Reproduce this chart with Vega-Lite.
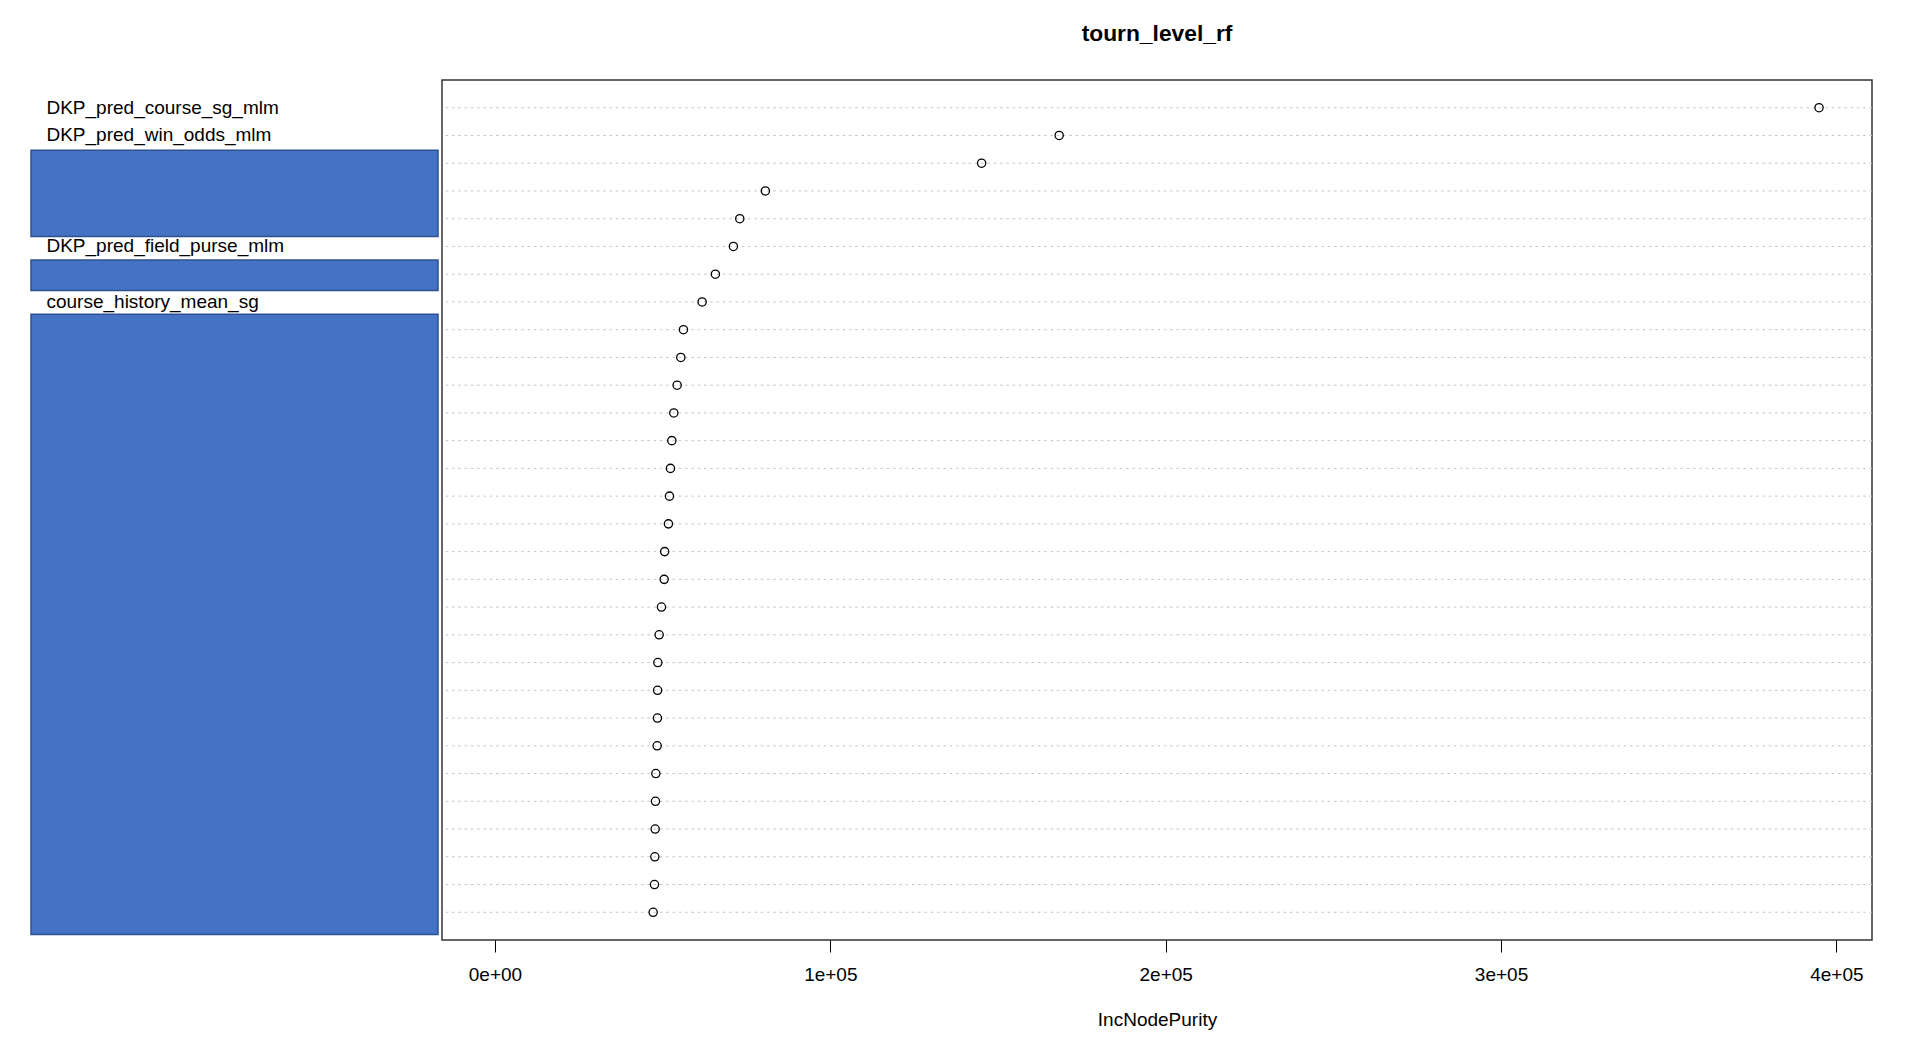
{
  "$schema": "https://vega.github.io/schema/vega-lite/v6.json",
  "padding": {"left": 30, "top": 22, "right": 0, "bottom": 0},
  "background": "white",
  "config": {"view": {"stroke": null}, "font": "Liberation Sans"},
  "datasets": {
    "imp": [
      {"rank": 1, "variable": "DKP_pred_course_sg_mlm", "IncNodePurity": 394820},
      {"rank": 2, "variable": "DKP_pred_win_odds_mlm", "IncNodePurity": 168240},
      {"rank": 3, "variable": "redacted_3", "IncNodePurity": 145110},
      {"rank": 4, "variable": "redacted_4", "IncNodePurity": 80630},
      {"rank": 5, "variable": "redacted_5", "IncNodePurity": 73000},
      {"rank": 6, "variable": "DKP_pred_field_purse_mlm", "IncNodePurity": 71100},
      {"rank": 7, "variable": "redacted_7", "IncNodePurity": 65730},
      {"rank": 8, "variable": "course_history_mean_sg", "IncNodePurity": 61770},
      {"rank": 9, "variable": "redacted_9", "IncNodePurity": 56200},
      {"rank": 10, "variable": "redacted_10", "IncNodePurity": 55420},
      {"rank": 11, "variable": "redacted_11", "IncNodePurity": 54320},
      {"rank": 12, "variable": "redacted_12", "IncNodePurity": 53330},
      {"rank": 13, "variable": "redacted_13", "IncNodePurity": 52740},
      {"rank": 14, "variable": "redacted_14", "IncNodePurity": 52330},
      {"rank": 15, "variable": "redacted_15", "IncNodePurity": 52030},
      {"rank": 16, "variable": "redacted_16", "IncNodePurity": 51730},
      {"rank": 17, "variable": "redacted_17", "IncNodePurity": 50600},
      {"rank": 18, "variable": "redacted_18", "IncNodePurity": 50450},
      {"rank": 19, "variable": "redacted_19", "IncNodePurity": 49650},
      {"rank": 20, "variable": "redacted_20", "IncNodePurity": 48960},
      {"rank": 21, "variable": "redacted_21", "IncNodePurity": 48570},
      {"rank": 22, "variable": "redacted_22", "IncNodePurity": 48500},
      {"rank": 23, "variable": "redacted_23", "IncNodePurity": 48450},
      {"rank": 24, "variable": "redacted_24", "IncNodePurity": 48360},
      {"rank": 25, "variable": "redacted_25", "IncNodePurity": 47970},
      {"rank": 26, "variable": "redacted_26", "IncNodePurity": 47860},
      {"rank": 27, "variable": "redacted_27", "IncNodePurity": 47770},
      {"rank": 28, "variable": "redacted_28", "IncNodePurity": 47670},
      {"rank": 29, "variable": "redacted_29", "IncNodePurity": 47570},
      {"rank": 30, "variable": "redacted_30", "IncNodePurity": 47170}
    ],
    "boxes": [
      {"from": 2.53, "to": 5.64},
      {"from": 6.49, "to": 7.59},
      {"from": 8.44, "to": 30.8}
    ]
  },
  "spacing": 4,
  "bounds": "flush",
  "hconcat": [
    {
      "width": 407,
      "height": 860,
      "layer": [
        {
          "data": {"name": "imp"},
          "mark": {"type": "text", "align": "left", "baseline": "middle", "fontSize": 19, "font": "Liberation Sans", "color": "black"},
          "encoding": {
            "x": {"datum": 0.038, "type": "quantitative", "scale": {"domain": [0, 1], "nice": false, "zero": false}, "axis": null},
            "y": {"field": "rank", "type": "quantitative", "scale": {"domain": [0, 31], "reverse": true, "nice": false, "zero": false}, "axis": null},
            "text": {"field": "variable"}
          }
        },
        {
          "data": {"name": "boxes"},
          "mark": {"type": "rect", "fill": "#4472C4", "stroke": "#2F528F", "strokeWidth": 1.5},
          "encoding": {
            "x": {"datum": 0, "type": "quantitative"},
            "x2": {"datum": 1},
            "y": {"field": "from", "type": "quantitative"},
            "y2": {"field": "to"}
          }
        }
      ]
    },
    {
      "width": 1430,
      "height": 860,
      "title": {"text": "tourn_level_rf", "fontSize": 22.8, "fontWeight": "bold", "font": "Liberation Sans", "color": "black", "anchor": "middle", "offset": 34},
      "data": {"name": "imp"},
      "view": {"stroke": "#333333", "strokeWidth": 1.5},
      "layer": [
        {
          "mark": {"type": "rule", "color": "#c4c4c4", "strokeDash": [2.5, 3.8], "strokeWidth": 1},
          "encoding": {
            "y": {"field": "rank", "type": "quantitative", "scale": {"domain": [0, 31], "reverse": true, "nice": false, "zero": false}, "axis": null}
          }
        },
        {
          "mark": {"type": "point", "shape": "circle", "filled": false, "color": "black", "size": 68, "strokeWidth": 1.3, "opacity": 1},
          "encoding": {
            "x": {
              "field": "IncNodePurity", "type": "quantitative",
              "scale": {"domain": [-15793, 410613], "nice": false, "zero": false},
              "axis": {
                "values": [0, 100000, 200000, 300000, 400000],
                "labelExpr": "datum.value == 0 ? '0e+00' : format(datum.value / 100000, 'd') + 'e+05'",
                "title": "IncNodePurity",
                "domain": false, "grid": false,
                "ticks": true, "tickSize": 12, "tickColor": "black", "tickWidth": 1,
                "labelFontSize": 19, "labelFont": "Liberation Sans", "labelColor": "black", "labelPadding": 13,
                "labelFlush": false, "labelOverlap": false,
                "titleFontSize": 19, "titleFont": "Liberation Sans", "titleFontWeight": "normal", "titleColor": "black", "titlePadding": 26.5
              }
            },
            "y": {"field": "rank", "type": "quantitative"}
          }
        }
      ]
    }
  ]
}
